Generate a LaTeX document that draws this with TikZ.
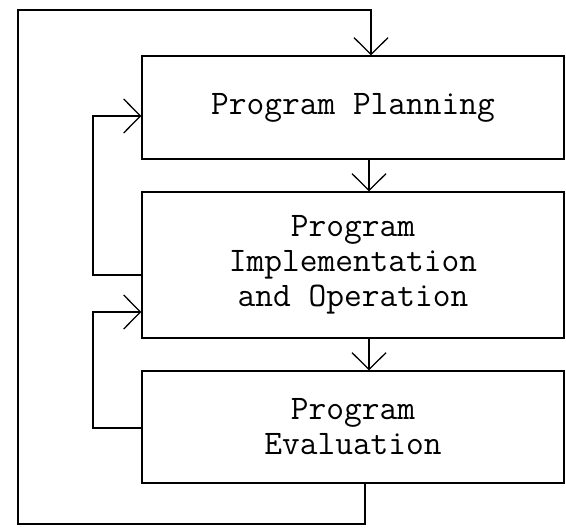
\documentclass[tikz,border=0pt]{standalone}
\usepackage{tikz}
\usetikzlibrary{arrows.meta,positioning}

\begin{document}
\begin{tikzpicture}[
    box/.style={draw, line width=0.9pt, minimum width=10.55cm, minimum height=#1, inner sep=0pt, align=center, font=\fontsize{24.5}{25}\selectfont\ttfamily},
    arrow/.style={-{Straight Barb[length=0.42cm, width=0.85cm]}, line width=0.9pt}
]
\useasboundingbox (0,0) rectangle (14.15,13.225);

% Stages
\node[box=2.575cm] (planning) at (8.825,10.5375) {Program Planning};
\node[box=3.65cm] (implement) at (8.825,6.6) {Program\\Implementation\\and Operation};
\node[box=2.8cm] (evaluation) at (8.825,2.55) {Program\\Evaluation};

% Routing columns
\coordinate (flow) at (9.225,0);
\coordinate (back) at (2.325,0);
\coordinate (outer) at (0.45,0);

% Forward flow
\draw[arrow] (planning.south -| flow) -- (implement.north -| flow);
\draw[arrow] (implement.south -| flow) -- (evaluation.north -| flow);

% Feedback loops
\draw[arrow] (implement.west |- 0,6.35) -| (back |- 0,10.325) -- (planning.west |- 0,10.325);
\draw[arrow] (evaluation.west |- 0,2.525) -| (back |- 0,5.425) -- (implement.west |- 0,5.425);
\draw[arrow] (evaluation.south -| 9.125,0) |- (outer |- 0,0.125) |- (9.275,12.975) -- (planning.north -| 9.275,0);
\end{tikzpicture}
\end{document}
